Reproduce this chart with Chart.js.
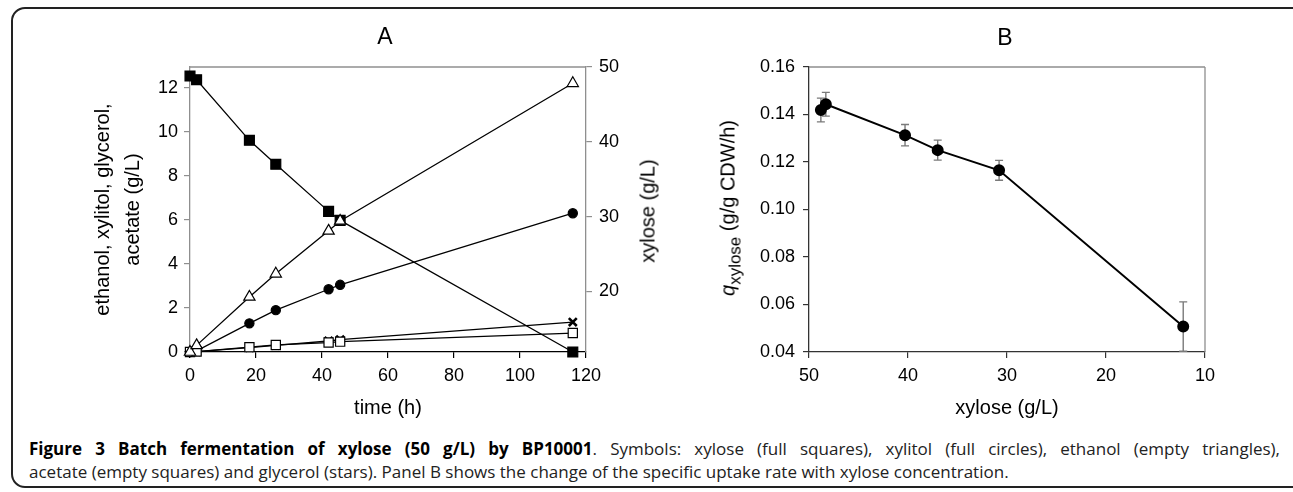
<!DOCTYPE html>
<html>
<head>
<meta charset="utf-8">
<script src="https://cdn.jsdelivr.net/npm/chart.js@4.4.1/dist/chart.umd.min.js"></script>
<style>
body { margin:0; background:#fff; width:1293px; height:492px; overflow:hidden; position:relative; font-family:"Liberation Sans", Arial, sans-serif; color:#000; }
#frame { position:absolute; left:11px; top:7px; width:1320px; height:477px; border:2px solid #222; border-radius:14px; }
#wrapA { position:absolute; left:0; top:0; width:660px; height:430px; }
#wrapB { position:absolute; left:660px; top:0; width:633px; height:430px; }
.ptitle { position:absolute; font-size:23px; transform:translate(-50%,-50%); }
.rot { position:absolute; white-space:nowrap; font-size:20px; transform:translate(-50%,-50%) rotate(-90deg); }
.rot sub { font-size:17px; vertical-align:-6px; }
.cap { position:absolute; left:29px; font-family:"Open Sans", sans-serif; font-size:17px; line-height:23px; white-space:nowrap; color:#222; }
.cap b { color:#000; }
#cap1 { top:437px; width:1251px; text-align:justify; text-align-last:justify; }
#cap2 { top:460px; }
</style>
</head>
<body>
<div id="frame"></div>
<div id="wrapA"><canvas id="chartA" width="660" height="430"></canvas></div>
<div id="wrapB"><canvas id="chartB" width="633" height="430"></canvas></div>
<div class="ptitle" style="left:385px; top:36px;">A</div>
<div class="ptitle" style="left:1005px; top:37px;">B</div>
<div class="rot" style="left:648px; top:211px;">xylose (g/L)</div>
<div class="rot" style="left:731px; top:208px;"><i>q</i><sub>xylose</sub> (g/g CDW/h)</div>
<div class="cap" id="cap1"><b>Figure 3 Batch fermentation of xylose (50 g/L) by BP10001</b>. Symbols: xylose (full squares), xylitol (full circles), ethanol (empty triangles),</div>
<div class="cap" id="cap2">acetate (empty squares) and glycerol (stars). Panel B shows the change of the specific uptake rate with xylose concentration.</div>

<script>
// panel A: batch fermentation over time
var times    = [0, 2, 18, 26, 42, 45.5, 116];
var xylose   = [48.8, 48.3, 40.2, 37.0, 30.7, 29.5, 11.9];
var xylitol  = [0, 0.05, 1.3, 1.9, 2.85, 3.05, 6.3];
var ethanol  = [0, 0.3, 2.5, 3.55, 5.5, 5.95, 12.2];
var acetate  = [0, 0.02, 0.22, 0.32, 0.43, 0.47, 0.86];
var glycerol = [0, 0.02, 0.2, 0.3, 0.5, 0.56, 1.36];

var timeTicks   = [0, 20, 40, 60, 80, 100, 120];
var leftTicks   = [0, 2, 4, 6, 8, 10, 12];
var xyloseTicks = [20, 30, 40, 50];

// panel B: specific uptake rate vs xylose
var xyloseConc = [48.8, 48.3, 40.3, 37.0, 30.8, 12.2];
var qXylose    = [0.1419, 0.1443, 0.1313, 0.125, 0.1165, 0.0507];
var qErr       = [0.005, 0.005, 0.0045, 0.0042, 0.0042, 0.0104];

var qTicks    = [0.04, 0.06, 0.08, 0.10, 0.12, 0.14, 0.16];
var concTicks = [10, 20, 30, 40, 50];

Chart.defaults.font.family = '"Liberation Sans", Arial, sans-serif';
Chart.defaults.color = '#000';

function pts(xs, ys) {
  return xs.map(function(x, i) { return { x: x, y: ys[i] }; });
}
function fixedTicks(list) {
  return function(scale) {
    scale.ticks = list.map(function(v) { return { value: v }; });
  };
}

var GRAY = '#8f8f8f';

// light frame line on the top (and right if asked) of the plot area
function frameLines(sides) {
  return {
    id: 'frameLines',
    beforeDatasetsDraw: function(chart) {
      var a = chart.chartArea, ctx = chart.ctx;
      ctx.save();
      ctx.strokeStyle = GRAY;
      ctx.lineWidth = 1.3;
      ctx.beginPath();
      ctx.moveTo(a.left, a.top);
      ctx.lineTo(a.right, a.top);
      if (sides.right) {
        ctx.moveTo(a.right, a.top);
        ctx.lineTo(a.right, a.bottom);
      }
      ctx.stroke();
      ctx.restore();
    }
  };
}

function series(label, data, axis, style, radius, fill, bw) {
  return {
    label: label,
    data: data,
    yAxisID: axis,
    borderColor: '#000',
    borderWidth: 1.3,
    pointStyle: style,
    pointRadius: radius,
    pointBackgroundColor: fill,
    pointBorderColor: '#000',
    pointBorderWidth: bw || 1.2,
    showLine: true,
    fill: false,
    tension: 0,
    clip: false
  };
}

var chartA = new Chart(document.getElementById('chartA'), {
  type: 'scatter',
  data: {
    datasets: [
      series('ethanol', pts(times, ethanol), 'y', 'triangle', 6.5, '#fff'),
      series('acetate', pts(times, acetate), 'y', 'rect', 6.5, '#fff'),
      series('xylitol', pts(times, xylitol), 'y', 'circle', 4.6, '#000'),
      series('glycerol', pts(times, glycerol), 'y', 'crossRot', 5.6, '#000', 2.6),
      series('xylose', pts(times, xylose), 'y2', 'rect', 7, '#000')
    ]
  },
  plugins: [frameLines({ right: false })],
  options: {
    responsive: false,
    animation: false,
    layout: { padding: { top: 67, left: 0, right: 0, bottom: 0 } },
    plugins: { legend: { display: false }, tooltip: { enabled: false } },
    scales: {
      x: {
        type: 'linear', position: 'bottom', min: 0, max: 120,
        afterBuildTicks: fixedTicks(timeTicks),
        ticks: { font: { size: 18 }, padding: 7, maxRotation: 0 },
        grid: { drawOnChartArea: false, tickLength: 6, color: '#000', lineWidth: 1.2 },
        border: { color: '#000', width: 1.3 },
        title: { display: true, text: 'time (h)', font: { size: 20 }, padding: { top: 0, bottom: 10 } },
        afterFit: function(s) { s.height = 78; }
      },
      y: {
        type: 'linear', position: 'left', min: 0, max: 12.94,
        afterBuildTicks: fixedTicks(leftTicks),
        ticks: { font: { size: 18 }, padding: 6 },
        grid: { drawOnChartArea: false, tickLength: 6, color: GRAY, lineWidth: 1.2 },
        border: { color: GRAY, width: 1.3 },
        title: {
          display: true,
          text: ['ethanol, xylitol, glycerol,', 'acetate (g/L)'],
          font: { size: 20, lineHeight: 1.5 },
          padding: { top: 88, bottom: 0 }
        },
        afterFit: function(s) { s.width = 190; }
      },
      y2: {
        type: 'linear', position: 'right', min: 11.9, max: 50,
        afterBuildTicks: fixedTicks(xyloseTicks),
        ticks: { font: { size: 18 }, padding: 7 },
        grid: { drawOnChartArea: false, tickLength: 6, color: GRAY, lineWidth: 1.2 },
        border: { color: GRAY, width: 1.3 },
        afterFit: function(s) { s.width = 74; }
      }
    }
  }
});

var errorBars = {
  id: 'errorBars',
  beforeDatasetsDraw: function(chart) {
    var ctx = chart.ctx, xs = chart.scales.x, ys = chart.scales.y;
    ctx.save();
    ctx.strokeStyle = '#7a7a7a';
    ctx.lineWidth = 1.4;
    qXylose.forEach(function(q, i) {
      var x = xs.getPixelForValue(xyloseConc[i]);
      var top = ys.getPixelForValue(q + qErr[i]);
      var bot = ys.getPixelForValue(q - qErr[i]);
      ctx.beginPath();
      ctx.moveTo(x, top); ctx.lineTo(x, bot);
      ctx.moveTo(x - 4, top); ctx.lineTo(x + 4, top);
      ctx.moveTo(x - 4, bot); ctx.lineTo(x + 4, bot);
      ctx.stroke();
    });
    ctx.restore();
  }
};

var chartB = new Chart(document.getElementById('chartB'), {
  type: 'scatter',
  data: {
    datasets: [{
      label: 'q xylose',
      data: pts(xyloseConc, qXylose),
      borderColor: '#000',
      borderWidth: 2,
      pointStyle: 'circle',
      pointRadius: 5,
      pointBackgroundColor: '#000',
      pointBorderColor: '#000',
      showLine: true,
      tension: 0,
      clip: false
    }]
  },
  plugins: [frameLines({ right: true }), errorBars],
  options: {
    responsive: false,
    animation: false,
    layout: { padding: { top: 67, left: 0, right: 88, bottom: 0 } },
    plugins: { legend: { display: false }, tooltip: { enabled: false } },
    scales: {
      x: {
        type: 'linear', position: 'bottom', min: 10, max: 50, reverse: true,
        afterBuildTicks: fixedTicks(concTicks),
        ticks: { font: { size: 18 }, padding: 7, maxRotation: 0 },
        grid: { drawOnChartArea: false, tickLength: 6, color: '#333', lineWidth: 1.2 },
        border: { color: '#333', width: 1.3 },
        title: { display: true, text: 'xylose (g/L)', font: { size: 20 }, padding: { top: 0, bottom: 10 } },
        afterFit: function(s) { s.height = 78; }
      },
      y: {
        type: 'linear', position: 'left', min: 0.04, max: 0.16,
        afterBuildTicks: fixedTicks(qTicks),
        ticks: {
          font: { size: 18 }, padding: 8,
          callback: function(v) { return v.toFixed(2); }
        },
        grid: { drawOnChartArea: false, tickLength: 6, color: '#333', lineWidth: 1.2 },
        border: { color: '#333', width: 1.3 },
        afterFit: function(s) { s.width = 149; }
      }
    }
  }
});
</script>
</body>
</html>
